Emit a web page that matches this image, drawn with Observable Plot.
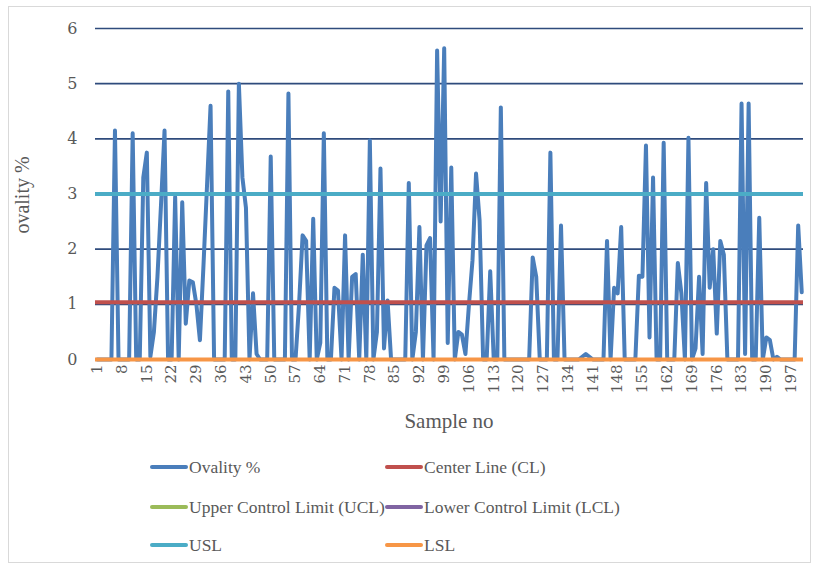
<!DOCTYPE html>
<html>
<head>
<meta charset="utf-8">
<script src="https://cdn.jsdelivr.net/npm/d3@7"></script>
<script src="https://cdn.jsdelivr.net/npm/@observablehq/plot@0.6"></script>
<style>
  body { margin:0; background:#fff; font-family:"Liberation Serif", serif; }
  #frame { position:absolute; left:8px; top:6px; width:801px; height:555px; border:1px solid #d9d9d9; }
  #chart { position:absolute; left:0; top:0; }
  .t { position:absolute; color:#595959; font-family:"Liberation Serif", serif; white-space:nowrap; }
  .sw { position:absolute; height:4px; width:38px; border-radius:2px; }
</style>
</head>
<body>
<div id="frame"></div>
<div id="chart"></div>
<script>
// Ovality % for samples 1..200
const ovality = [
  0,0,0,0,0,4.15,0,0,0,0,
  4.1,0,0,3.3,3.75,0.05,0.5,1.5,2.8,4.15,
  0,0,2.95,0,2.85,0.65,1.43,1.4,1.0,0.35,
  1.7,3.15,4.6,0,0,0,0,4.86,0,0,
  5.0,3.3,2.75,0,1.2,0.1,0,0,0,3.68,
  0,0,0,0,4.82,0,0,1.0,2.25,2.15,
  0,2.55,0,0.3,4.1,0,0,1.3,1.25,0,
  2.25,0,1.5,1.55,0,1.9,0,3.97,0,0.5,
  3.46,0.2,1.07,0,0,0,0,0,3.2,0,
  0.5,2.4,0,2.07,2.2,0,5.6,2.5,5.64,0.3,
  3.48,0,0.5,0.45,0.1,1.0,1.8,3.37,2.52,0,
  0,1.6,0,0,4.57,0,0,0,0,0,
  0,0,0,1.85,1.5,0,0,0,3.75,0,
  0,2.43,0,0,0,0,0,0.05,0.1,0.05,
  0,0,0,0,2.15,0,1.3,1.2,2.4,0,
  0,0,0,1.52,1.5,3.88,0.4,3.3,0,0,
  3.93,0,0,0,1.75,1.2,0,4.02,0,0.2,
  1.5,0.1,3.2,1.3,2.0,0.47,2.15,1.9,0,0,
  0,0,4.64,0.1,4.64,0,0,2.57,0,0.4,
  0.35,0,0.05,0,0,0,0,0,2.43,1.22
];
const sampleNo = ovality.map((_, i) => i + 1);
const centerLine = 1.04;
const usl = 3;
const lsl = 0;
const xTicks = [1,8,15,22,29,36,43,50,57,64,71,78,85,92,99,106,113,120,127,134,141,148,155,162,169,176,183,190,197];
const yTicks = [0,1,2,3,4,5,6];
const seriesNames = ["Ovality %","Center Line (CL)","Upper Control Limit (UCL)","Lower Control Limit (LCL)","USL","LSL"];
const seriesColors = ["#4a7ebb","#c0504d","#9bbb59","#8064a2","#4bacc6","#f79646"];

const data = ovality.map((v, i) => ({sample: sampleNo[i], value: v}));

const chart = Plot.plot({
  width: 815,
  height: 440,
  marginLeft: 95,
  marginRight: 12,
  marginTop: 28,
  marginBottom: 81,
  style: {fontFamily: "DejaVu Serif, serif", background: "transparent", color: "#595959"},
  x: {type: "linear", domain: [0.5, 200.5]},
  y: {domain: [0, 6]},
  marks: [
    Plot.ruleY(yTicks.slice(1), {stroke: "#2f4b7c", strokeWidth: 1.6}),
    Plot.axisY({ticks: yTicks, tickSize: 0, tickPadding: 18, fontSize: 16, label: null, tickFormat: d => d}),
    Plot.axisX({ticks: xTicks, tickSize: 0, tickPadding: 5, tickRotate: -90, fontSize: 15, label: null, tickFormat: d => d}),
    Plot.lineY(data, {x: "sample", y: "value", stroke: seriesColors[0], strokeWidth: 4, strokeLinejoin: "round", strokeLinecap: "round"}),
    Plot.ruleY([centerLine], {stroke: seriesColors[1], strokeWidth: 4}),
    Plot.ruleY([usl], {stroke: seriesColors[4], strokeWidth: 4}),
    Plot.ruleY([lsl], {stroke: seriesColors[5], strokeWidth: 4})
  ]
});
document.getElementById("chart").appendChild(chart);

// axis titles
const body = document.body;
function addText(txt, css) {
  const d = document.createElement("div");
  d.className = "t";
  d.textContent = txt;
  Object.assign(d.style, css);
  body.appendChild(d);
  return d;
}
addText("Sample no", {left: "449px", top: "409px", fontSize: "21px", transform: "translateX(-50%)"});
addText("ovality %", {left: "22px", top: "195px", fontSize: "20px", transform: "translate(-50%,-50%) rotate(-90deg)"});

// legend
const colX = [150, 385];
const rowY = [467, 507, 545];
seriesNames.forEach((name, i) => {
  const cx = colX[i % 2], cy = rowY[Math.floor(i / 2)];
  const s = document.createElement("div");
  s.className = "sw";
  s.style.left = cx + "px";
  s.style.top = (cy - 2) + "px";
  s.style.background = seriesColors[i];
  body.appendChild(s);
  addText(name, {left: (cx + 39) + "px", top: (cy - 12) + "px", fontSize: "17.5px", lineHeight: "24px"});
});
</script>
</body>
</html>
